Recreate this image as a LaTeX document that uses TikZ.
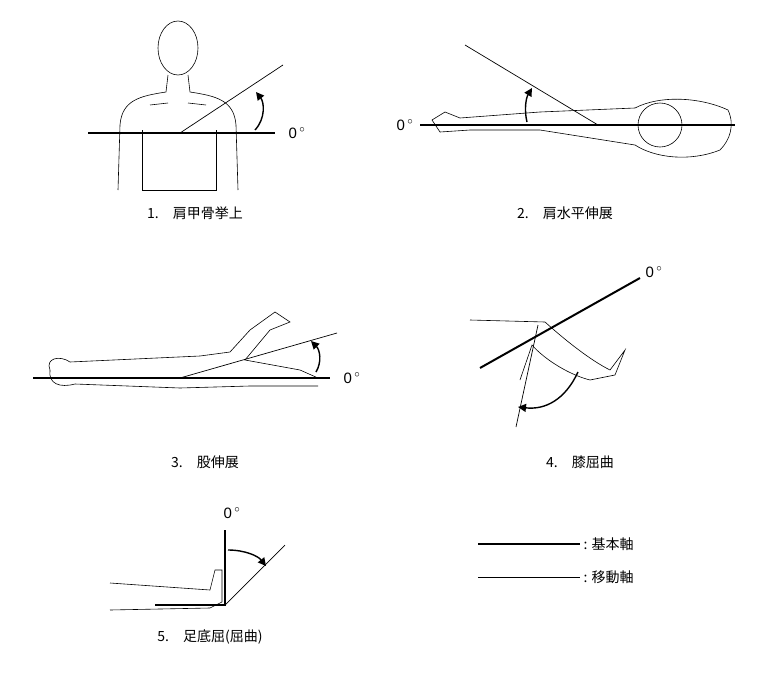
\documentclass[tikz,border=0pt]{standalone}
\usepackage{fontspec}
\setmainfont{Liberation Sans}
\newfontfamily\jpfont{Noto Sans CJK JP}
\usetikzlibrary{arrows.meta}
\tikzset{
  baseaxis/.style={line width=2pt},
  moveaxis/.style={line width=0.7pt},
  bodyline/.style={line width=0.6pt},
  turnarrow/.style={line width=1.4pt,-{Triangle[length=8pt,width=8pt]}},
  zerolabel/.style={font=\fontsize{15}{17}\selectfont},
  caption/.style={font=\jpfont\fontsize{14}{16}\selectfont}
}
\begin{document}
\begin{tikzpicture}[x=1pt,y=-1pt]
\useasboundingbox (0,0) rectangle (780,691);
    % 1. shoulder girdle elevation
    \draw[bodyline] (178,48) ellipse (20 and 27);
    \draw[bodyline] (168,75) -- (166,92) (188,75) -- (190,92);
    \draw[bodyline] (166,92) .. controls (140,96) and (122,100) .. (120,125) -- (118,190)
        (190,92) .. controls (216,96) and (234,100) .. (236,125) -- (238,190);
    \draw[bodyline] (142,130) -- (142,190) -- (216,190) -- (216,130);
    \draw[bodyline] (150,105) -- (168,103) (188,103) -- (206,105);
    \draw[baseaxis] (88,133) -- (275,133);
    \draw[moveaxis] (180,133) -- (283,65);
    \draw[turnarrow] (255,130) .. controls (266,118) and (264,102) .. (256,92);
    \node[zerolabel] (z1) at (297,133) {0\,$^\circ$};
    \node[caption] (c1) at (195,213) {1.\quad 肩甲骨挙上};
    % 2. shoulder horizontal extension
    \draw[bodyline] (660,125) circle (22);
    \draw[bodyline] (635,108) .. controls (660,95) and (700,97) .. (728,110)
        .. controls (735,125) and (730,140) .. (720,150)
        .. controls (690,162) and (655,158) .. (635,145);
    \draw[bodyline] (635,108) -- (540,112) -- (460,118) -- (445,112) -- (432,120) -- (440,132) -- (470,130) -- (540,130) -- (635,145);
    \draw[baseaxis] (420,125) -- (735,125);
    \draw[moveaxis] (465,45) -- (598,125);
    \draw[turnarrow] (527,122) .. controls (524,110) and (526,98) .. (532,88);
    \node[zerolabel] (z2) at (405,125) {0\,$^\circ$};
    \node[caption] (c2) at (565,213) {2.\quad 肩水平伸展};
    % 3. hip extension
    \draw[bodyline] (50,370) .. controls (45,358) and (60,355) .. (70,362) -- (200,356) -- (230,352)
        -- (250,330) -- (275,312) -- (290,322) -- (270,330) -- (245,360) -- (300,370) -- (318,378);
    \draw[bodyline] (50,370) .. controls (48,384) and (60,388) .. (75,384) -- (180,388) -- (250,386) -- (318,386);
    \draw[baseaxis] (33,378) -- (330,378);
    \draw[moveaxis] (180,378) -- (337,333);
    \draw[turnarrow] (316,372) .. controls (322,362) and (320,350) .. (311,341);
    \node[zerolabel] (z3) at (352,378) {0\,$^\circ$};
    \node[caption] (c3) at (205,462) {3.\quad 股伸展};
    % 4. knee flexion
    \draw[bodyline] (470,320) -- (545,322) .. controls (565,340) and (590,360) .. (610,370) -- (625,350) -- (615,375) -- (590,380)
        .. controls (570,375) and (545,360) .. (532,345) -- (520,380);
    \draw[baseaxis] (480,368) -- (640,278);
    \draw[moveaxis] (538,325) -- (516,427);
    \draw[turnarrow] (578,372) .. controls (565,400) and (545,410) .. (518,407);
    \node[zerolabel] (z4) at (654,272) {0\,$^\circ$};
    \node[caption] (c4) at (580,462) {4.\quad 膝屈曲};
    % 5. ankle plantar flexion
    \draw[bodyline] (110,583) -- (210,590) -- (215,570) -- (222,570) -- (222,602) -- (210,608) -- (110,610);
    \draw[baseaxis] (225,530) -- (225,605) -- (155,605);
    \draw[moveaxis] (225,605) -- (285,545);
    \draw[turnarrow] (228,550) .. controls (245,550) and (258,556) .. (266,566);
    \node[zerolabel] (z5) at (232,513) {0\,$^\circ$};
    \node[caption] (c5) at (210,637) {5.\quad 足底屈(屈曲)};
    % legend
    \coordinate (l1a) at (478,544); \coordinate (l1b) at (580,544);
    \coordinate (l2a) at (478,577); \coordinate (l2b) at (580,577);
    \draw[baseaxis] (l1a) -- (l1b);
    \draw[moveaxis] (l2a) -- (l2b);
    \node[caption,anchor=west] (k1) at (l1b) {: 基本軸};
    \node[caption,anchor=west] (k2) at (l2b) {: 移動軸};
\end{tikzpicture}
\end{document}
